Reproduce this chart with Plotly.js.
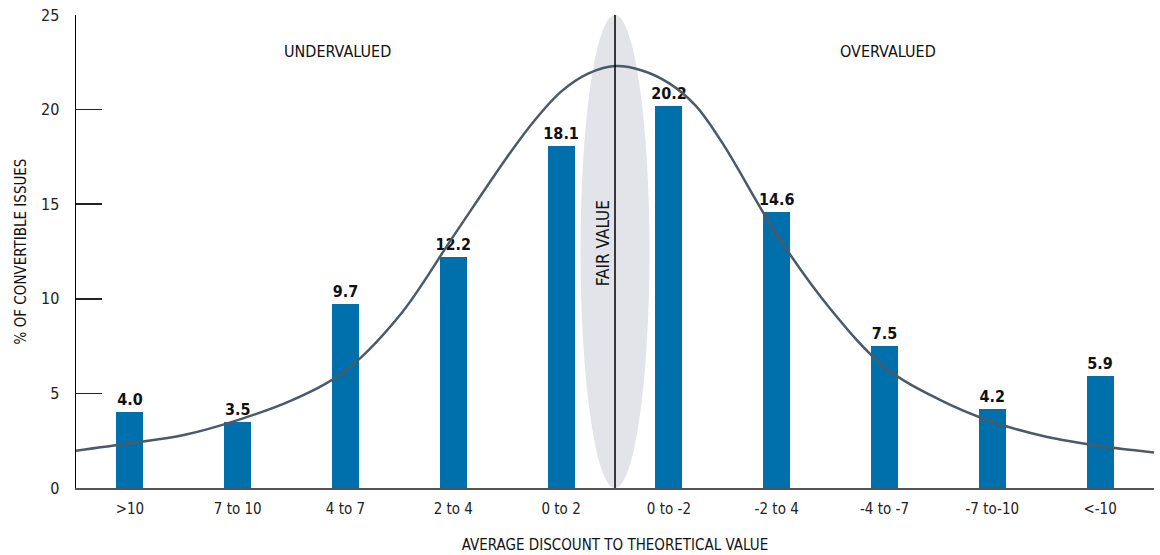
<!DOCTYPE html>
<html>
<head>
<meta charset="utf-8">
<script src="https://cdn.plot.ly/plotly-3.0.1.min.js"></script>
<style>html,body{margin:0;padding:0;background:#fff;}#chart{width:1160px;height:555px;}</style>
</head>
<body>
<div id="chart"></div>
<script>
const categories = [">10", "7 to 10", "4 to 7", "2 to 4", "0 to 2", "0 to -2", "-2 to 4", "-4 to -7", "-7 to-10", "<-10"];
const percentIssues = [4.0, 3.5, 9.7, 12.2, 18.1, 20.2, 14.6, 7.5, 4.2, 5.9];
const curveX = [-0.5, 0.0, 0.5, 1.0, 1.5, 2.0, 2.5, 3.0, 3.5, 3.75, 4.0, 4.25, 4.5, 4.75, 5.0, 5.25, 5.5, 6.0, 6.5, 7.0, 7.5, 8.0, 8.5, 9.0, 9.5];
const curveY = [1.97, 2.36, 2.8, 3.59, 4.63, 6.2, 9.1, 13.3, 17.5, 19.4, 20.95, 21.9, 22.3, 22.07, 21.4, 20.2, 18.2, 13.4, 9.45, 6.4, 4.7, 3.5, 2.71, 2.22, 1.88];
const yTicks = [0, 5, 10, 15, 20, 25];
const fairValueX = 4.5;

const FONT = "'Liberation Sans Narrow', 'DejaVu Sans Condensed', 'Liberation Sans', sans-serif";
const idx = categories.map((c, i) => i);

const traces = [
  {
    type: 'bar', x: idx, y: percentIssues, width: 0.25,
    marker: {color: '#0070ad'},
    text: percentIssues.map(v => v.toFixed(1)),
    textposition: 'outside', cliponaxis: false, constraintext: 'none',
    textfont: {family: FONT, size: 16, color: '#111', weight: 'bold'},
    hoverinfo: 'skip'
  },
  {
    type: 'scatter', mode: 'lines', x: curveX, y: curveY,
    line: {color: '#4b5a67', width: 2.5, shape: 'spline', smoothing: 1},
    hoverinfo: 'skip'
  }
];

const layout = {
  width: 1160, height: 555,
  margin: {l: 76, r: 6, t: 15, b: 67},
  paper_bgcolor: '#fff', plot_bgcolor: '#fff',
  showlegend: false,
  font: {family: FONT, color: '#222', size: 15},
  bargap: 0,
  xaxis: {
    range: [-0.5, 9.5], tickmode: 'array', tickvals: idx, ticktext: categories,
    showgrid: false, zeroline: false, showline: true, linecolor: '#555', linewidth: 2,
    ticks: '', ticklabelstandoff: 6, tickfont: {size: 15, color: '#222'}, fixedrange: true,
    title: {text: 'AVERAGE DISCOUNT TO THEORETICAL VALUE', font: {size: 15, color: '#111'}, standoff: 22}
  },
  yaxis: {
    range: [0, 25], tickmode: 'array', tickvals: yTicks,
    showgrid: false, zeroline: false, showline: true, linecolor: '#000', linewidth: 1.5,
    ticks: 'inside', ticklen: 26, tickcolor: '#222', tickwidth: 1.5,
    ticklabelstandoff: 12,
    tickfont: {size: 16, color: '#222'}, fixedrange: true,
    title: {text: '% OF CONVERTIBLE ISSUES', font: {size: 15, color: '#111'}, standoff: 10}
  },
  shapes: [
    {type: 'circle', layer: 'below', xref: 'x', yref: 'y', x0: fairValueX - 0.32, x1: fairValueX + 0.32, y0: 0, y1: 25,
     fillcolor: '#e2e4e9', line: {width: 0}},
    {type: 'line', layer: 'above', xref: 'x', yref: 'y', x0: fairValueX, x1: fairValueX, y0: 0, y1: 25,
     line: {color: '#000', width: 1.5}}
  ],
  annotations: [
    {text: 'UNDERVALUED', x: 1.93, y: 23.05, xref: 'x', yref: 'y', showarrow: false, font: {size: 16, color: '#111'}},
    {text: 'OVERVALUED', x: 7.03, y: 23.05, xref: 'x', yref: 'y', showarrow: false, font: {size: 16, color: '#111'}},
    {text: 'FAIR VALUE', x: 4.39, y: 12.95, xref: 'x', yref: 'y', showarrow: false, textangle: -90, font: {size: 17, color: '#111'}}
  ]
};

Plotly.newPlot('chart', traces, layout, {displayModeBar: false, staticPlot: true});
</script>
</body>
</html>
